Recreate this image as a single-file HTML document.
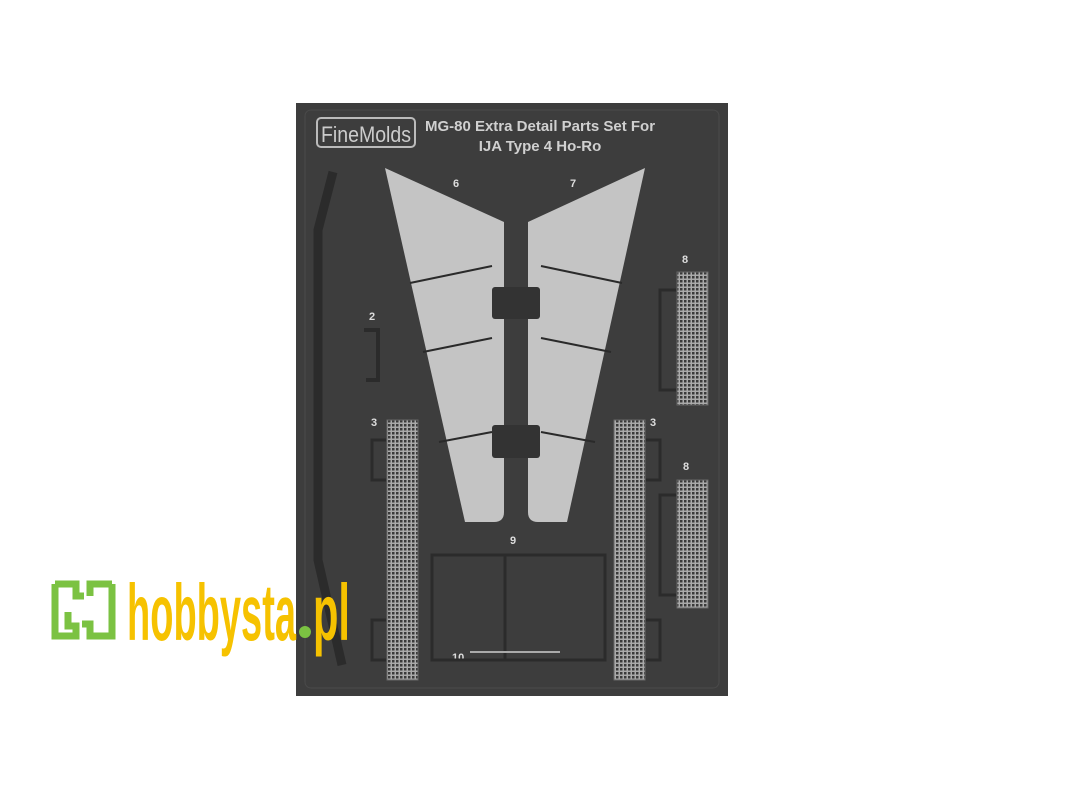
<!DOCTYPE html>
<html><head><style>
html,body{margin:0;padding:0;background:#fff;width:1067px;height:800px;overflow:hidden}
</style></head><body>
<svg width="1067" height="800" xmlns="http://www.w3.org/2000/svg" style="position:absolute;left:0;top:0">
<rect x="296" y="103" width="432" height="593" fill="#3d3d3d"/>
<rect x="305" y="110" width="414" height="578" rx="6" fill="none" stroke="#4a4a4a" stroke-width="1"/>
<rect x="317" y="118" width="98" height="29" rx="4" fill="none" stroke="#bbb" stroke-width="2"/>
<text x="321" y="142" font-family="Liberation Sans, sans-serif" font-size="22" fill="#ccc" textLength="90" lengthAdjust="spacingAndGlyphs">FineMolds</text>
<text x="540" y="131" font-family="Liberation Sans, sans-serif" font-weight="bold" font-size="15" fill="#d0d0d0" text-anchor="middle">MG-80 Extra Detail Parts Set For</text>
<text x="540" y="151" font-family="Liberation Sans, sans-serif" font-weight="bold" font-size="15" fill="#d0d0d0" text-anchor="middle">IJA Type 4 Ho-Ro</text>
<g font-family="Liberation Sans, sans-serif" font-weight="bold" font-size="11" fill="#ddd">
<text x="327" y="186">1</text><text x="453" y="187">6</text><text x="570" y="187">7</text>
<text x="369" y="320">2</text><text x="371" y="426">3</text><text x="650" y="426">3</text>
<text x="682" y="263">8</text><text x="683" y="470">8</text><text x="510" y="544">9</text><text x="452" y="661">10</text>
</g>
<path d="M385 168 L504 222 L504 512 Q504 522 494 522 L465 522 Z" fill="#c4c4c4"/>
<path d="M645 168 L528 222 L528 512 Q528 522 538 522 L567 522 Z" fill="#c4c4c4"/>
<g stroke="#2a2a2a" stroke-width="2">
<line x1="410" y1="283" x2="492" y2="266"/><line x1="541" y1="266" x2="622" y2="283"/>
<line x1="423" y1="352" x2="492" y2="338"/><line x1="541" y1="338" x2="611" y2="352"/>
<line x1="439" y1="442" x2="492" y2="432"/><line x1="541" y1="432" x2="595" y2="442"/>
</g>
<rect x="492" y="287" width="48" height="32" rx="3" fill="#333"/>
<rect x="492" y="425" width="48" height="33" rx="3" fill="#333"/>
<path d="M333 172 L318 230 L318 560 L342 665" fill="none" stroke="#2b2b2b" stroke-width="9"/>
<path d="M364 330 L378 330 L378 380 L366 380" fill="none" stroke="#2b2b2b" stroke-width="4"/>
<defs><pattern id="g" width="4" height="4" patternUnits="userSpaceOnUse"><rect width="4" height="4" fill="#aaa"/><rect width="2.5" height="2.5" fill="#3a3a3a"/></pattern></defs>
<rect x="387" y="420" width="31" height="260" fill="url(#g)" stroke="#666"/>
<rect x="614" y="420" width="31" height="260" fill="url(#g)" stroke="#666"/>
<rect x="677" y="272" width="31" height="133" fill="url(#g)" stroke="#666"/>
<rect x="677" y="480" width="31" height="128" fill="url(#g)" stroke="#666"/>
<g fill="none" stroke="#2b2b2b" stroke-width="3">
<path d="M386 440 L372 440 L372 480 L386 480"/><path d="M646 440 L660 440 L660 480 L646 480"/>
<path d="M676 290 L660 290 L660 390 L676 390"/><path d="M676 495 L660 495 L660 595 L676 595"/>
<path d="M386 620 L372 620 L372 660 L386 660"/><path d="M646 620 L660 620 L660 660 L646 660"/>
<rect x="432" y="555" width="173" height="105"/><line x1="505" y1="555" x2="505" y2="660"/>
</g>
<path d="M470 652 L560 652" stroke="#aaa" stroke-width="2"/>
<path d="M55 584 L55 636 L76 636 L76 626 L68 626 L68 612 M55 584 L76 584 L76 596 L84 596 M112 584 L90 584 L90 596 M112 584 L112 636 L90 636 L90 624 L82 624" fill="none" stroke="#7bc242" stroke-width="7"/>
<text x="127" y="640" font-family="Liberation Sans, sans-serif" font-weight="bold" font-size="80" fill="#f6c200" textLength="169" lengthAdjust="spacingAndGlyphs">hobbysta</text>
<circle cx="305" cy="632" r="6" fill="#7bc242"/>
<text x="313" y="640" font-family="Liberation Sans, sans-serif" font-weight="bold" font-size="80" fill="#f6c200" textLength="37" lengthAdjust="spacingAndGlyphs">pl</text>
</svg>
</body></html>
